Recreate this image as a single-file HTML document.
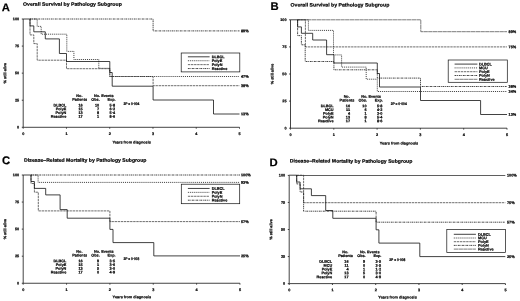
<!DOCTYPE html>
<html><head><meta charset="utf-8"><title>Survival by Pathology Subgroup</title>
<style>
html,body{margin:0;padding:0;background:#fff;}
svg{display:block;will-change:transform;}
text{font-family:"Liberation Sans",sans-serif;fill:#000;stroke:#000;stroke-width:0.2px;text-rendering:geometricPrecision;}
path,rect{fill:none;}
.ax{stroke:#222;stroke-width:0.85;}
.box{stroke:#111;stroke-width:0.7;}
.s1{stroke:#111;stroke-width:0.8;}
.dot{stroke:#111;stroke-width:0.8;stroke-dasharray:1 0.95;}
.dash{stroke:#333;stroke-width:0.72;stroke-dasharray:2.4 0.7;}
.dd{stroke:#151515;stroke-width:0.8;stroke-dasharray:1.8 0.75 0.85 0.75;}
.gs{stroke:#505050;stroke-width:0.75;stroke-dasharray:4.4 0.35;}
.top{stroke:#2a2a2a;stroke-width:0.75;}
</style></head><body>
<svg width="520" height="301" viewBox="0 0 520 301">
<rect x="0" y="0" width="520" height="301" style="fill:#fff"/>
<g id="A">
<text x="1.80" y="11.20" transform="rotate(0.03 1.80 11.20)" font-size="11.30" text-anchor="start" font-weight="bold" >A</text>
<text transform="translate(23.10 5.70) rotate(0.03) scale(1.0556 1)" font-size="4.90" text-anchor="start" font-weight="bold" >Overall Survival by Pathology Subgroup</text>
<path d="M23.20 19.00 L23.20 127.30 L239.50 127.30" class="ax"/>
<path d="M23.20 127.30 L23.20 128.70" class="ax"/>
<text x="23.20" y="135.00" transform="rotate(0.03 23.20 135.00)" font-size="3.80" text-anchor="middle" font-weight="bold" >0</text>
<path d="M66.46 127.30 L66.46 128.70" class="ax"/>
<text x="66.46" y="135.00" transform="rotate(0.03 66.46 135.00)" font-size="3.80" text-anchor="middle" font-weight="bold" >1</text>
<path d="M109.72 127.30 L109.72 128.70" class="ax"/>
<text x="109.72" y="135.00" transform="rotate(0.03 109.72 135.00)" font-size="3.80" text-anchor="middle" font-weight="bold" >2</text>
<path d="M152.98 127.30 L152.98 128.70" class="ax"/>
<text x="152.98" y="135.00" transform="rotate(0.03 152.98 135.00)" font-size="3.80" text-anchor="middle" font-weight="bold" >3</text>
<path d="M196.24 127.30 L196.24 128.70" class="ax"/>
<text x="196.24" y="135.00" transform="rotate(0.03 196.24 135.00)" font-size="3.80" text-anchor="middle" font-weight="bold" >4</text>
<path d="M239.50 127.30 L239.50 128.70" class="ax"/>
<text x="239.50" y="135.00" transform="rotate(0.03 239.50 135.00)" font-size="3.80" text-anchor="middle" font-weight="bold" >5</text>
<path d="M21.80 19.00 L23.20 19.00" class="ax"/>
<text x="19.20" y="20.20" transform="rotate(0.03 19.20 20.20)" font-size="3.80" text-anchor="end" font-weight="bold" >100</text>
<path d="M21.80 46.08 L23.20 46.08" class="ax"/>
<text x="19.20" y="47.28" transform="rotate(0.03 19.20 47.28)" font-size="3.80" text-anchor="end" font-weight="bold" >75</text>
<path d="M21.80 73.15 L23.20 73.15" class="ax"/>
<text x="19.20" y="74.35" transform="rotate(0.03 19.20 74.35)" font-size="3.80" text-anchor="end" font-weight="bold" >50</text>
<path d="M21.80 100.22 L23.20 100.22" class="ax"/>
<text x="19.20" y="101.42" transform="rotate(0.03 19.20 101.42)" font-size="3.80" text-anchor="end" font-weight="bold" >25</text>
<path d="M21.80 127.30 L23.20 127.30" class="ax"/>
<text x="19.20" y="128.50" transform="rotate(0.03 19.20 128.50)" font-size="3.80" text-anchor="end" font-weight="bold" >0</text>
<text x="131.60" y="143.60" transform="rotate(0.03 131.60 143.60)" font-size="3.80" text-anchor="middle" font-weight="bold" >Years from diagnosis</text>
<text transform="translate(6.20 73.15) rotate(-89.97)" font-size="3.8" text-anchor="middle" font-weight="bold">% still alive</text>
<path d="M30.00 19.00 L153.10 19.00 L153.10 30.90 L239.50 30.90" class="dd"/>
<path d="M30.00 19.00 L37.20 19.00 L37.20 26.40 L41.20 26.40 L41.20 34.20 L66.80 34.20 L66.80 51.40 L73.90 51.40 L73.90 59.50 L98.80 59.50 L98.80 68.30 L109.80 68.30 L109.80 76.50 L239.50 76.50" class="dot"/>
<path d="M30.00 19.00 L30.00 34.90 L33.80 34.90 L33.80 43.60 L37.20 43.60 L37.20 60.20 L66.50 60.20 L66.50 68.70 L109.80 68.70 L109.80 76.50 L153.10 76.50 L153.10 85.70 L239.50 85.70" class="dash"/>
<path d="M23.20 19.00 L30.00 19.00 L30.00 25.90 L33.80 25.90 L33.80 31.80 L45.30 31.80 L45.30 38.90 L59.40 38.90 L59.40 53.50 L66.50 53.50 L66.50 61.50 L109.80 61.50 L109.80 72.50 L112.20 72.50 L112.20 86.20 L153.10 86.20 L153.10 100.00 L213.50 100.00 L213.50 114.00 L239.50 114.00" class="s1"/>
<rect x="181.20" y="53.00" width="58.60" height="18.90" class="box"/>
<path d="M187.90 56.80 L209.60 56.80" class="s1"/>
<text x="211.70" y="58.15" transform="rotate(0.03 211.70 58.15)" font-size="3.80" text-anchor="start" font-weight="bold" >DLBCL</text>
<path d="M187.90 60.72 L209.60 60.72" class="dot"/>
<text x="211.70" y="62.07" transform="rotate(0.03 211.70 62.07)" font-size="3.80" text-anchor="start" font-weight="bold" >PolyE</text>
<path d="M187.90 64.64 L209.60 64.64" class="dash"/>
<text x="211.70" y="65.99" transform="rotate(0.03 211.70 65.99)" font-size="3.80" text-anchor="start" font-weight="bold" >PolyN</text>
<path d="M187.90 68.56 L209.60 68.56" class="dd"/>
<text x="211.70" y="69.91" transform="rotate(0.03 211.70 69.91)" font-size="3.80" text-anchor="start" font-weight="bold" >Reactive</text>
<text x="79.40" y="97.00" transform="rotate(0.03 79.40 97.00)" font-size="3.80" text-anchor="middle" font-weight="bold" >No.</text>
<text x="79.70" y="100.80" transform="rotate(0.03 79.70 100.80)" font-size="3.80" text-anchor="middle" font-weight="bold" >Patients</text>
<text x="103.80" y="97.00" transform="rotate(0.03 103.80 97.00)" font-size="3.80" text-anchor="middle" font-weight="bold" >No. Events</text>
<text x="95.50" y="100.80" transform="rotate(0.03 95.50 100.80)" font-size="3.80" text-anchor="middle" font-weight="bold" >Obs.</text>
<text x="111.50" y="100.80" transform="rotate(0.03 111.50 100.80)" font-size="3.80" text-anchor="middle" font-weight="bold" >Exp.</text>
<text transform="translate(123.40 104.50) rotate(0.03) scale(0.8615 1)" font-size="3.80" text-anchor="start" font-weight="bold" >2P = 0·004</text>
<text x="66.30" y="106.50" transform="rotate(0.03 66.30 106.50)" font-size="3.80" text-anchor="end" font-weight="bold" >DLBCL</text>
<text x="82.70" y="106.50" transform="rotate(0.03 82.70 106.50)" font-size="3.80" text-anchor="end" font-weight="bold" >16</text>
<text x="99.20" y="106.50" transform="rotate(0.03 99.20 106.50)" font-size="3.80" text-anchor="end" font-weight="bold" >10</text>
<text x="115.10" y="106.50" transform="rotate(0.03 115.10 106.50)" font-size="3.80" text-anchor="end" font-weight="bold" >5·8</text>
<text x="66.30" y="110.25" transform="rotate(0.03 66.30 110.25)" font-size="3.80" text-anchor="end" font-weight="bold" >PolyE</text>
<text x="82.70" y="110.25" transform="rotate(0.03 82.70 110.25)" font-size="3.80" text-anchor="end" font-weight="bold" >15</text>
<text x="99.20" y="110.25" transform="rotate(0.03 99.20 110.25)" font-size="3.80" text-anchor="end" font-weight="bold" >7</text>
<text x="115.10" y="110.25" transform="rotate(0.03 115.10 110.25)" font-size="3.80" text-anchor="end" font-weight="bold" >6·2</text>
<text x="66.30" y="114.00" transform="rotate(0.03 66.30 114.00)" font-size="3.80" text-anchor="end" font-weight="bold" >PolyN</text>
<text x="82.70" y="114.00" transform="rotate(0.03 82.70 114.00)" font-size="3.80" text-anchor="end" font-weight="bold" >13</text>
<text x="99.20" y="114.00" transform="rotate(0.03 99.20 114.00)" font-size="3.80" text-anchor="end" font-weight="bold" >8</text>
<text x="115.10" y="114.00" transform="rotate(0.03 115.10 114.00)" font-size="3.80" text-anchor="end" font-weight="bold" >5·4</text>
<text x="66.30" y="117.75" transform="rotate(0.03 66.30 117.75)" font-size="3.80" text-anchor="end" font-weight="bold" >Reactive</text>
<text x="82.70" y="117.75" transform="rotate(0.03 82.70 117.75)" font-size="3.80" text-anchor="end" font-weight="bold" >17</text>
<text x="99.20" y="117.75" transform="rotate(0.03 99.20 117.75)" font-size="3.80" text-anchor="end" font-weight="bold" >1</text>
<text x="115.10" y="117.75" transform="rotate(0.03 115.10 117.75)" font-size="3.80" text-anchor="end" font-weight="bold" >8·6</text>
<text x="241.00" y="32.25" transform="rotate(0.03 241.00 32.25)" font-size="3.80" text-anchor="start" font-weight="bold" >89%</text>
<text x="241.00" y="77.85" transform="rotate(0.03 241.00 77.85)" font-size="3.80" text-anchor="start" font-weight="bold" >47%</text>
<text x="241.00" y="87.05" transform="rotate(0.03 241.00 87.05)" font-size="3.80" text-anchor="start" font-weight="bold" >38%</text>
<text x="241.00" y="115.35" transform="rotate(0.03 241.00 115.35)" font-size="3.80" text-anchor="start" font-weight="bold" >13%</text>
</g>
<g id="B">
<text x="270.60" y="10.00" transform="rotate(0.03 270.60 10.00)" font-size="11.30" text-anchor="start" font-weight="bold" >B</text>
<text transform="translate(290.60 6.50) rotate(0.03) scale(1.0556 1)" font-size="4.90" text-anchor="start" font-weight="bold" >Overall Survival by Pathology Subgroup</text>
<path d="M290.50 19.80 L290.50 128.20 L507.00 128.20" class="ax"/>
<path d="M290.50 128.20 L290.50 129.60" class="ax"/>
<text x="290.50" y="135.90" transform="rotate(0.03 290.50 135.90)" font-size="3.80" text-anchor="middle" font-weight="bold" >0</text>
<path d="M333.80 128.20 L333.80 129.60" class="ax"/>
<text x="333.80" y="135.90" transform="rotate(0.03 333.80 135.90)" font-size="3.80" text-anchor="middle" font-weight="bold" >1</text>
<path d="M377.10 128.20 L377.10 129.60" class="ax"/>
<text x="377.10" y="135.90" transform="rotate(0.03 377.10 135.90)" font-size="3.80" text-anchor="middle" font-weight="bold" >2</text>
<path d="M420.40 128.20 L420.40 129.60" class="ax"/>
<text x="420.40" y="135.90" transform="rotate(0.03 420.40 135.90)" font-size="3.80" text-anchor="middle" font-weight="bold" >3</text>
<path d="M463.70 128.20 L463.70 129.60" class="ax"/>
<text x="463.70" y="135.90" transform="rotate(0.03 463.70 135.90)" font-size="3.80" text-anchor="middle" font-weight="bold" >4</text>
<path d="M507.00 128.20 L507.00 129.60" class="ax"/>
<text x="507.00" y="135.90" transform="rotate(0.03 507.00 135.90)" font-size="3.80" text-anchor="middle" font-weight="bold" >5</text>
<path d="M289.10 19.80 L290.50 19.80" class="ax"/>
<text x="286.50" y="21.00" transform="rotate(0.03 286.50 21.00)" font-size="3.80" text-anchor="end" font-weight="bold" >100</text>
<path d="M289.10 46.90 L290.50 46.90" class="ax"/>
<text x="286.50" y="48.10" transform="rotate(0.03 286.50 48.10)" font-size="3.80" text-anchor="end" font-weight="bold" >75</text>
<path d="M289.10 74.00 L290.50 74.00" class="ax"/>
<text x="286.50" y="75.20" transform="rotate(0.03 286.50 75.20)" font-size="3.80" text-anchor="end" font-weight="bold" >50</text>
<path d="M289.10 101.10 L290.50 101.10" class="ax"/>
<text x="286.50" y="102.30" transform="rotate(0.03 286.50 102.30)" font-size="3.80" text-anchor="end" font-weight="bold" >25</text>
<path d="M289.10 128.20 L290.50 128.20" class="ax"/>
<text x="286.50" y="129.40" transform="rotate(0.03 286.50 129.40)" font-size="3.80" text-anchor="end" font-weight="bold" >0</text>
<text x="399.00" y="144.50" transform="rotate(0.03 399.00 144.50)" font-size="3.80" text-anchor="middle" font-weight="bold" >Years from diagnosis</text>
<text transform="translate(273.50 74.00) rotate(-89.97)" font-size="3.8" text-anchor="middle" font-weight="bold">% still alive</text>
<path d="M297.60 19.80 L420.80 19.80 L420.80 31.70 L507.00 31.70" class="gs"/>
<path d="M297.60 19.80 L305.40 19.80 L305.40 46.90 L507.00 46.90" class="dash"/>
<path d="M297.60 19.80 L308.40 19.80 L308.40 30.40 L333.50 30.40 L333.50 54.90 L341.60 54.90 L341.60 67.10 L366.20 67.10 L366.20 79.20 L377.30 79.20 L377.30 91.50 L507.00 91.50" class="dot"/>
<path d="M297.60 19.80 L297.60 35.60 L301.40 35.60 L301.40 44.80 L305.20 44.80 L305.20 61.50 L333.90 61.50 L333.90 69.80 L377.30 69.80 L377.30 78.10 L420.50 78.10 L420.50 86.50 L507.00 86.50" class="dd"/>
<path d="M290.50 19.80 L297.60 19.80 L297.60 26.90 L301.40 26.90 L301.40 33.30 L312.70 33.30 L312.70 40.00 L326.60 40.00 L326.60 54.70 L333.90 54.70 L333.90 63.00 L377.30 63.00 L377.30 73.50 L379.50 73.50 L379.50 87.00 L420.50 87.00 L420.50 100.50 L480.60 100.50 L480.60 114.50 L507.00 114.50" class="s1"/>
<rect x="448.20" y="60.00" width="59.10" height="22.30" class="box"/>
<path d="M454.60 64.10 L477.40 64.10" class="s1"/>
<text x="479.00" y="65.45" transform="rotate(0.03 479.00 65.45)" font-size="3.80" text-anchor="start" font-weight="bold" >DLBCL</text>
<path d="M454.60 67.90 L477.40 67.90" class="dot"/>
<text x="479.00" y="69.25" transform="rotate(0.03 479.00 69.25)" font-size="3.80" text-anchor="start" font-weight="bold" >MCU</text>
<path d="M454.60 71.70 L477.40 71.70" class="dash"/>
<text x="479.00" y="73.05" transform="rotate(0.03 479.00 73.05)" font-size="3.80" text-anchor="start" font-weight="bold" >PolyE</text>
<path d="M454.60 75.50 L477.40 75.50" class="dd"/>
<text x="479.00" y="76.85" transform="rotate(0.03 479.00 76.85)" font-size="3.80" text-anchor="start" font-weight="bold" >PolyN</text>
<path d="M454.60 79.30 L477.40 79.30" class="gs"/>
<text x="479.00" y="80.65" transform="rotate(0.03 479.00 80.65)" font-size="3.80" text-anchor="start" font-weight="bold" >Reactive</text>
<text x="346.70" y="97.70" transform="rotate(0.03 346.70 97.70)" font-size="3.80" text-anchor="middle" font-weight="bold" >No.</text>
<text x="347.00" y="101.50" transform="rotate(0.03 347.00 101.50)" font-size="3.80" text-anchor="middle" font-weight="bold" >Patients</text>
<text x="371.10" y="97.70" transform="rotate(0.03 371.10 97.70)" font-size="3.80" text-anchor="middle" font-weight="bold" >No. Events</text>
<text x="362.80" y="101.50" transform="rotate(0.03 362.80 101.50)" font-size="3.80" text-anchor="middle" font-weight="bold" >Obs.</text>
<text x="378.80" y="101.50" transform="rotate(0.03 378.80 101.50)" font-size="3.80" text-anchor="middle" font-weight="bold" >Exp.</text>
<text transform="translate(390.70 105.20) rotate(0.03) scale(0.8615 1)" font-size="3.80" text-anchor="start" font-weight="bold" >2P = 0·004</text>
<text x="333.60" y="107.20" transform="rotate(0.03 333.60 107.20)" font-size="3.80" text-anchor="end" font-weight="bold" >DLBCL</text>
<text x="350.00" y="107.20" transform="rotate(0.03 350.00 107.20)" font-size="3.80" text-anchor="end" font-weight="bold" >16</text>
<text x="366.50" y="107.20" transform="rotate(0.03 366.50 107.20)" font-size="3.80" text-anchor="end" font-weight="bold" >10</text>
<text x="382.40" y="107.20" transform="rotate(0.03 382.40 107.20)" font-size="3.80" text-anchor="end" font-weight="bold" >5·8</text>
<text x="333.60" y="110.98" transform="rotate(0.03 333.60 110.98)" font-size="3.80" text-anchor="end" font-weight="bold" >MCU</text>
<text x="350.00" y="110.98" transform="rotate(0.03 350.00 110.98)" font-size="3.80" text-anchor="end" font-weight="bold" >11</text>
<text x="366.50" y="110.98" transform="rotate(0.03 366.50 110.98)" font-size="3.80" text-anchor="end" font-weight="bold" >6</text>
<text x="382.40" y="110.98" transform="rotate(0.03 382.40 110.98)" font-size="3.80" text-anchor="end" font-weight="bold" >4·2</text>
<text x="333.60" y="114.76" transform="rotate(0.03 333.60 114.76)" font-size="3.80" text-anchor="end" font-weight="bold" >PolyE</text>
<text x="350.00" y="114.76" transform="rotate(0.03 350.00 114.76)" font-size="3.80" text-anchor="end" font-weight="bold" >4</text>
<text x="366.50" y="114.76" transform="rotate(0.03 366.50 114.76)" font-size="3.80" text-anchor="end" font-weight="bold" >1</text>
<text x="382.40" y="114.76" transform="rotate(0.03 382.40 114.76)" font-size="3.80" text-anchor="end" font-weight="bold" >2·0</text>
<text x="333.60" y="118.54" transform="rotate(0.03 333.60 118.54)" font-size="3.80" text-anchor="end" font-weight="bold" >PolyN</text>
<text x="350.00" y="118.54" transform="rotate(0.03 350.00 118.54)" font-size="3.80" text-anchor="end" font-weight="bold" >13</text>
<text x="366.50" y="118.54" transform="rotate(0.03 366.50 118.54)" font-size="3.80" text-anchor="end" font-weight="bold" >8</text>
<text x="382.40" y="118.54" transform="rotate(0.03 382.40 118.54)" font-size="3.80" text-anchor="end" font-weight="bold" >5·4</text>
<text x="333.60" y="122.32" transform="rotate(0.03 333.60 122.32)" font-size="3.80" text-anchor="end" font-weight="bold" >Reactive</text>
<text x="350.00" y="122.32" transform="rotate(0.03 350.00 122.32)" font-size="3.80" text-anchor="end" font-weight="bold" >17</text>
<text x="366.50" y="122.32" transform="rotate(0.03 366.50 122.32)" font-size="3.80" text-anchor="end" font-weight="bold" >1</text>
<text x="382.40" y="122.32" transform="rotate(0.03 382.40 122.32)" font-size="3.80" text-anchor="end" font-weight="bold" >8·6</text>
<text x="508.60" y="33.05" transform="rotate(0.03 508.60 33.05)" font-size="3.80" text-anchor="start" font-weight="bold" >89%</text>
<text x="508.60" y="48.25" transform="rotate(0.03 508.60 48.25)" font-size="3.80" text-anchor="start" font-weight="bold" >75%</text>
<text x="508.60" y="87.85" transform="rotate(0.03 508.60 87.85)" font-size="3.80" text-anchor="start" font-weight="bold" >38%</text>
<text x="508.60" y="92.75" transform="rotate(0.03 508.60 92.75)" font-size="3.80" text-anchor="start" font-weight="bold" >34%</text>
<text x="508.60" y="115.85" transform="rotate(0.03 508.60 115.85)" font-size="3.80" text-anchor="start" font-weight="bold" >13%</text>
</g>
<g id="C">
<text x="2.00" y="164.30" transform="rotate(0.03 2.00 164.30)" font-size="11.30" text-anchor="start" font-weight="bold" >C</text>
<text transform="translate(24.00 161.80) rotate(0.03) scale(1.0457 1)" font-size="4.90" text-anchor="start" font-weight="bold" >Disease–Related Mortality by Pathology Subgroup</text>
<path d="M23.20 175.00 L23.20 283.25 L239.95 283.25" class="ax"/>
<path d="M23.20 283.25 L23.20 284.65" class="ax"/>
<text x="23.20" y="290.95" transform="rotate(0.03 23.20 290.95)" font-size="3.80" text-anchor="middle" font-weight="bold" >0</text>
<path d="M66.55 283.25 L66.55 284.65" class="ax"/>
<text x="66.55" y="290.95" transform="rotate(0.03 66.55 290.95)" font-size="3.80" text-anchor="middle" font-weight="bold" >1</text>
<path d="M109.90 283.25 L109.90 284.65" class="ax"/>
<text x="109.90" y="290.95" transform="rotate(0.03 109.90 290.95)" font-size="3.80" text-anchor="middle" font-weight="bold" >2</text>
<path d="M153.25 283.25 L153.25 284.65" class="ax"/>
<text x="153.25" y="290.95" transform="rotate(0.03 153.25 290.95)" font-size="3.80" text-anchor="middle" font-weight="bold" >3</text>
<path d="M196.60 283.25 L196.60 284.65" class="ax"/>
<text x="196.60" y="290.95" transform="rotate(0.03 196.60 290.95)" font-size="3.80" text-anchor="middle" font-weight="bold" >4</text>
<path d="M239.95 283.25 L239.95 284.65" class="ax"/>
<text x="239.95" y="290.95" transform="rotate(0.03 239.95 290.95)" font-size="3.80" text-anchor="middle" font-weight="bold" >5</text>
<path d="M21.80 175.00 L23.20 175.00" class="ax"/>
<text x="19.20" y="176.20" transform="rotate(0.03 19.20 176.20)" font-size="3.80" text-anchor="end" font-weight="bold" >100</text>
<path d="M21.80 202.06 L23.20 202.06" class="ax"/>
<text x="19.20" y="203.26" transform="rotate(0.03 19.20 203.26)" font-size="3.80" text-anchor="end" font-weight="bold" >75</text>
<path d="M21.80 229.12 L23.20 229.12" class="ax"/>
<text x="19.20" y="230.32" transform="rotate(0.03 19.20 230.32)" font-size="3.80" text-anchor="end" font-weight="bold" >50</text>
<path d="M21.80 256.19 L23.20 256.19" class="ax"/>
<text x="19.20" y="257.39" transform="rotate(0.03 19.20 257.39)" font-size="3.80" text-anchor="end" font-weight="bold" >25</text>
<path d="M21.80 283.25 L23.20 283.25" class="ax"/>
<text x="19.20" y="284.45" transform="rotate(0.03 19.20 284.45)" font-size="3.80" text-anchor="end" font-weight="bold" >0</text>
<text x="131.82" y="298.15" transform="rotate(0.03 131.82 298.15)" font-size="3.80" text-anchor="middle" font-weight="bold" >Years from diagnosis</text>
<text transform="translate(6.20 229.12) rotate(-89.97)" font-size="3.8" text-anchor="middle" font-weight="bold">% still alive</text>
<path d="M31.00 175.00 L240.00 175.00" class="dd"/>
<path d="M31.00 175.00 L38.10 175.00 L38.10 182.40 L240.00 182.40" class="dot"/>
<path d="M31.00 175.00 L31.00 183.50 L34.40 183.50 L34.40 192.20 L38.30 192.20 L38.30 210.90 L109.90 210.90 L109.90 221.60 L240.00 221.60" class="dash"/>
<path d="M23.20 175.00 L31.00 175.00 L31.00 181.50 L34.40 181.50 L34.40 188.40 L45.70 188.40 L45.70 194.90 L60.10 194.90 L60.10 209.60 L67.20 209.60 L67.20 218.20 L109.90 218.20 L109.90 229.40 L113.00 229.40 L113.00 242.60 L153.80 242.60 L153.80 255.90 L240.00 255.90" class="s1"/>
<rect x="181.30" y="184.20" width="58.40" height="19.50" class="box"/>
<path d="M187.90 188.45 L209.60 188.45" class="s1"/>
<text x="211.70" y="189.80" transform="rotate(0.03 211.70 189.80)" font-size="3.80" text-anchor="start" font-weight="bold" >DLBCL</text>
<path d="M187.90 192.37 L209.60 192.37" class="dot"/>
<text x="211.70" y="193.72" transform="rotate(0.03 211.70 193.72)" font-size="3.80" text-anchor="start" font-weight="bold" >PolyE</text>
<path d="M187.90 196.29 L209.60 196.29" class="dash"/>
<text x="211.70" y="197.64" transform="rotate(0.03 211.70 197.64)" font-size="3.80" text-anchor="start" font-weight="bold" >PolyN</text>
<path d="M187.90 200.21 L209.60 200.21" class="dd"/>
<text x="211.70" y="201.56" transform="rotate(0.03 211.70 201.56)" font-size="3.80" text-anchor="start" font-weight="bold" >Reactive</text>
<text x="79.40" y="252.70" transform="rotate(0.03 79.40 252.70)" font-size="3.80" text-anchor="middle" font-weight="bold" >No.</text>
<text x="79.70" y="256.50" transform="rotate(0.03 79.70 256.50)" font-size="3.80" text-anchor="middle" font-weight="bold" >Patients</text>
<text x="103.80" y="252.70" transform="rotate(0.03 103.80 252.70)" font-size="3.80" text-anchor="middle" font-weight="bold" >No. Events</text>
<text x="95.50" y="256.50" transform="rotate(0.03 95.50 256.50)" font-size="3.80" text-anchor="middle" font-weight="bold" >Obs.</text>
<text x="111.50" y="256.50" transform="rotate(0.03 111.50 256.50)" font-size="3.80" text-anchor="middle" font-weight="bold" >Exp.</text>
<text transform="translate(123.40 260.20) rotate(0.03) scale(0.8615 1)" font-size="3.80" text-anchor="start" font-weight="bold" >2P = 0·003</text>
<text x="66.30" y="262.20" transform="rotate(0.03 66.30 262.20)" font-size="3.80" text-anchor="end" font-weight="bold" >DLBCL</text>
<text x="82.70" y="262.20" transform="rotate(0.03 82.70 262.20)" font-size="3.80" text-anchor="end" font-weight="bold" >16</text>
<text x="99.20" y="262.20" transform="rotate(0.03 99.20 262.20)" font-size="3.80" text-anchor="end" font-weight="bold" >9</text>
<text x="115.10" y="262.20" transform="rotate(0.03 115.10 262.20)" font-size="3.80" text-anchor="end" font-weight="bold" >3·5</text>
<text x="66.30" y="266.00" transform="rotate(0.03 66.30 266.00)" font-size="3.80" text-anchor="end" font-weight="bold" >PolyE</text>
<text x="82.70" y="266.00" transform="rotate(0.03 82.70 266.00)" font-size="3.80" text-anchor="end" font-weight="bold" >15</text>
<text x="99.20" y="266.00" transform="rotate(0.03 99.20 266.00)" font-size="3.80" text-anchor="end" font-weight="bold" >1</text>
<text x="115.10" y="266.00" transform="rotate(0.03 115.10 266.00)" font-size="3.80" text-anchor="end" font-weight="bold" >3·6</text>
<text x="66.30" y="269.80" transform="rotate(0.03 66.30 269.80)" font-size="3.80" text-anchor="end" font-weight="bold" >PolyN</text>
<text x="82.70" y="269.80" transform="rotate(0.03 82.70 269.80)" font-size="3.80" text-anchor="end" font-weight="bold" >13</text>
<text x="99.20" y="269.80" transform="rotate(0.03 99.20 269.80)" font-size="3.80" text-anchor="end" font-weight="bold" >5</text>
<text x="115.10" y="269.80" transform="rotate(0.03 115.10 269.80)" font-size="3.80" text-anchor="end" font-weight="bold" >3·0</text>
<text x="66.30" y="273.60" transform="rotate(0.03 66.30 273.60)" font-size="3.80" text-anchor="end" font-weight="bold" >Reactive</text>
<text x="82.70" y="273.60" transform="rotate(0.03 82.70 273.60)" font-size="3.80" text-anchor="end" font-weight="bold" >17</text>
<text x="99.20" y="273.60" transform="rotate(0.03 99.20 273.60)" font-size="3.80" text-anchor="end" font-weight="bold" >0</text>
<text x="115.10" y="273.60" transform="rotate(0.03 115.10 273.60)" font-size="3.80" text-anchor="end" font-weight="bold" >4·9</text>
<text x="241.00" y="176.35" transform="rotate(0.03 241.00 176.35)" font-size="3.80" text-anchor="start" font-weight="bold" >100%</text>
<text x="241.00" y="183.75" transform="rotate(0.03 241.00 183.75)" font-size="3.80" text-anchor="start" font-weight="bold" >93%</text>
<text x="241.00" y="222.95" transform="rotate(0.03 241.00 222.95)" font-size="3.80" text-anchor="start" font-weight="bold" >57%</text>
<text x="241.00" y="257.25" transform="rotate(0.03 241.00 257.25)" font-size="3.80" text-anchor="start" font-weight="bold" >25%</text>
</g>
<g id="D">
<text x="269.60" y="166.30" transform="rotate(0.03 269.60 166.30)" font-size="11.30" text-anchor="start" font-weight="bold" >D</text>
<text transform="translate(289.80 162.60) rotate(0.03) scale(1.0457 1)" font-size="4.90" text-anchor="start" font-weight="bold" >Disease–Related Mortality by Pathology Subgroup</text>
<path d="M289.20 175.40 L289.20 283.60 L505.45 283.60" class="ax"/>
<path d="M289.20 283.60 L289.20 285.00" class="ax"/>
<text x="289.20" y="291.30" transform="rotate(0.03 289.20 291.30)" font-size="3.80" text-anchor="middle" font-weight="bold" >0</text>
<path d="M332.45 283.60 L332.45 285.00" class="ax"/>
<text x="332.45" y="291.30" transform="rotate(0.03 332.45 291.30)" font-size="3.80" text-anchor="middle" font-weight="bold" >1</text>
<path d="M375.70 283.60 L375.70 285.00" class="ax"/>
<text x="375.70" y="291.30" transform="rotate(0.03 375.70 291.30)" font-size="3.80" text-anchor="middle" font-weight="bold" >2</text>
<path d="M418.95 283.60 L418.95 285.00" class="ax"/>
<text x="418.95" y="291.30" transform="rotate(0.03 418.95 291.30)" font-size="3.80" text-anchor="middle" font-weight="bold" >3</text>
<path d="M462.20 283.60 L462.20 285.00" class="ax"/>
<text x="462.20" y="291.30" transform="rotate(0.03 462.20 291.30)" font-size="3.80" text-anchor="middle" font-weight="bold" >4</text>
<path d="M505.45 283.60 L505.45 285.00" class="ax"/>
<text x="505.45" y="291.30" transform="rotate(0.03 505.45 291.30)" font-size="3.80" text-anchor="middle" font-weight="bold" >5</text>
<path d="M287.80 175.40 L289.20 175.40" class="ax"/>
<text x="285.20" y="176.60" transform="rotate(0.03 285.20 176.60)" font-size="3.80" text-anchor="end" font-weight="bold" >100</text>
<path d="M287.80 202.45 L289.20 202.45" class="ax"/>
<text x="285.20" y="203.65" transform="rotate(0.03 285.20 203.65)" font-size="3.80" text-anchor="end" font-weight="bold" >75</text>
<path d="M287.80 229.50 L289.20 229.50" class="ax"/>
<text x="285.20" y="230.70" transform="rotate(0.03 285.20 230.70)" font-size="3.80" text-anchor="end" font-weight="bold" >50</text>
<path d="M287.80 256.55 L289.20 256.55" class="ax"/>
<text x="285.20" y="257.75" transform="rotate(0.03 285.20 257.75)" font-size="3.80" text-anchor="end" font-weight="bold" >25</text>
<path d="M287.80 283.60 L289.20 283.60" class="ax"/>
<text x="285.20" y="284.80" transform="rotate(0.03 285.20 284.80)" font-size="3.80" text-anchor="end" font-weight="bold" >0</text>
<text x="397.57" y="298.60" transform="rotate(0.03 397.57 298.60)" font-size="3.80" text-anchor="middle" font-weight="bold" >Years from diagnosis</text>
<text transform="translate(272.20 229.50) rotate(-89.97)" font-size="3.8" text-anchor="middle" font-weight="bold">% still alive</text>
<path d="M296.70 175.50 L505.30 175.50" class="top"/>
<path d="M296.70 175.20 L303.60 175.20 L303.60 202.70 L505.30 202.70" class="dash"/>
<path d="M296.70 175.20 L296.70 183.90 L300.10 183.90 L300.10 192.00 L303.60 192.00 L303.60 211.20 L376.10 211.20 L376.10 222.20 L505.30 222.20" class="dd"/>
<path d="M289.20 175.20 L296.70 175.20 L296.70 182.00 L300.10 182.00 L300.10 188.80 L311.40 188.80 L311.40 195.60 L325.70 195.60 L325.70 210.50 L332.80 210.50 L332.80 218.30 L376.10 218.30 L376.10 229.80 L378.90 229.80 L378.90 243.10 L419.80 243.10 L419.80 256.60 L505.30 256.60" class="s1"/>
<rect x="446.80" y="229.40" width="58.70" height="23.20" class="box"/>
<path d="M453.80 234.30 L475.90 234.30" class="s1"/>
<text x="478.00" y="235.65" transform="rotate(0.03 478.00 235.65)" font-size="3.80" text-anchor="start" font-weight="bold" >DLBCL</text>
<path d="M453.80 238.00 L475.90 238.00" class="dot"/>
<text x="478.00" y="239.35" transform="rotate(0.03 478.00 239.35)" font-size="3.80" text-anchor="start" font-weight="bold" >MCU</text>
<path d="M453.80 241.70 L475.90 241.70" class="dash"/>
<text x="478.00" y="243.05" transform="rotate(0.03 478.00 243.05)" font-size="3.80" text-anchor="start" font-weight="bold" >PolyE</text>
<path d="M453.80 245.40 L475.90 245.40" class="dd"/>
<text x="478.00" y="246.75" transform="rotate(0.03 478.00 246.75)" font-size="3.80" text-anchor="start" font-weight="bold" >PolyN</text>
<path d="M453.80 249.10 L475.90 249.10" class="gs"/>
<text x="478.00" y="250.45" transform="rotate(0.03 478.00 250.45)" font-size="3.80" text-anchor="start" font-weight="bold" >Reactive</text>
<text x="345.30" y="253.30" transform="rotate(0.03 345.30 253.30)" font-size="3.80" text-anchor="middle" font-weight="bold" >No.</text>
<text x="345.60" y="257.10" transform="rotate(0.03 345.60 257.10)" font-size="3.80" text-anchor="middle" font-weight="bold" >Patients</text>
<text x="369.70" y="253.30" transform="rotate(0.03 369.70 253.30)" font-size="3.80" text-anchor="middle" font-weight="bold" >No. Events</text>
<text x="361.40" y="257.10" transform="rotate(0.03 361.40 257.10)" font-size="3.80" text-anchor="middle" font-weight="bold" >Obs.</text>
<text x="377.40" y="257.10" transform="rotate(0.03 377.40 257.10)" font-size="3.80" text-anchor="middle" font-weight="bold" >Exp.</text>
<text transform="translate(389.30 260.80) rotate(0.03) scale(0.8615 1)" font-size="3.80" text-anchor="start" font-weight="bold" >2P = 0·008</text>
<text x="332.20" y="262.80" transform="rotate(0.03 332.20 262.80)" font-size="3.80" text-anchor="end" font-weight="bold" >DLBCL</text>
<text x="348.60" y="262.80" transform="rotate(0.03 348.60 262.80)" font-size="3.80" text-anchor="end" font-weight="bold" >16</text>
<text x="365.10" y="262.80" transform="rotate(0.03 365.10 262.80)" font-size="3.80" text-anchor="end" font-weight="bold" >9</text>
<text x="381.00" y="262.80" transform="rotate(0.03 381.00 262.80)" font-size="3.80" text-anchor="end" font-weight="bold" >3·5</text>
<text x="332.20" y="266.65" transform="rotate(0.03 332.20 266.65)" font-size="3.80" text-anchor="end" font-weight="bold" >MCU</text>
<text x="348.60" y="266.65" transform="rotate(0.03 348.60 266.65)" font-size="3.80" text-anchor="end" font-weight="bold" >11</text>
<text x="365.10" y="266.65" transform="rotate(0.03 365.10 266.65)" font-size="3.80" text-anchor="end" font-weight="bold" >0</text>
<text x="381.00" y="266.65" transform="rotate(0.03 381.00 266.65)" font-size="3.80" text-anchor="end" font-weight="bold" >2·5</text>
<text x="332.20" y="270.50" transform="rotate(0.03 332.20 270.50)" font-size="3.80" text-anchor="end" font-weight="bold" >PolyE</text>
<text x="348.60" y="270.50" transform="rotate(0.03 348.60 270.50)" font-size="3.80" text-anchor="end" font-weight="bold" >4</text>
<text x="365.10" y="270.50" transform="rotate(0.03 365.10 270.50)" font-size="3.80" text-anchor="end" font-weight="bold" >1</text>
<text x="381.00" y="270.50" transform="rotate(0.03 381.00 270.50)" font-size="3.80" text-anchor="end" font-weight="bold" >1·2</text>
<text x="332.20" y="274.35" transform="rotate(0.03 332.20 274.35)" font-size="3.80" text-anchor="end" font-weight="bold" >PolyN</text>
<text x="348.60" y="274.35" transform="rotate(0.03 348.60 274.35)" font-size="3.80" text-anchor="end" font-weight="bold" >13</text>
<text x="365.10" y="274.35" transform="rotate(0.03 365.10 274.35)" font-size="3.80" text-anchor="end" font-weight="bold" >5</text>
<text x="381.00" y="274.35" transform="rotate(0.03 381.00 274.35)" font-size="3.80" text-anchor="end" font-weight="bold" >3·0</text>
<text x="332.20" y="278.20" transform="rotate(0.03 332.20 278.20)" font-size="3.80" text-anchor="end" font-weight="bold" >Reactive</text>
<text x="348.60" y="278.20" transform="rotate(0.03 348.60 278.20)" font-size="3.80" text-anchor="end" font-weight="bold" >17</text>
<text x="365.10" y="278.20" transform="rotate(0.03 365.10 278.20)" font-size="3.80" text-anchor="end" font-weight="bold" >0</text>
<text x="381.00" y="278.20" transform="rotate(0.03 381.00 278.20)" font-size="3.80" text-anchor="end" font-weight="bold" >4·9</text>
<text x="507.00" y="176.55" transform="rotate(0.03 507.00 176.55)" font-size="3.80" text-anchor="start" font-weight="bold" >100%</text>
<text x="507.00" y="204.05" transform="rotate(0.03 507.00 204.05)" font-size="3.80" text-anchor="start" font-weight="bold" >75%</text>
<text x="507.00" y="223.55" transform="rotate(0.03 507.00 223.55)" font-size="3.80" text-anchor="start" font-weight="bold" >57%</text>
<text x="507.00" y="257.95" transform="rotate(0.03 507.00 257.95)" font-size="3.80" text-anchor="start" font-weight="bold" >25%</text>
</g>
</svg>
</body></html>
